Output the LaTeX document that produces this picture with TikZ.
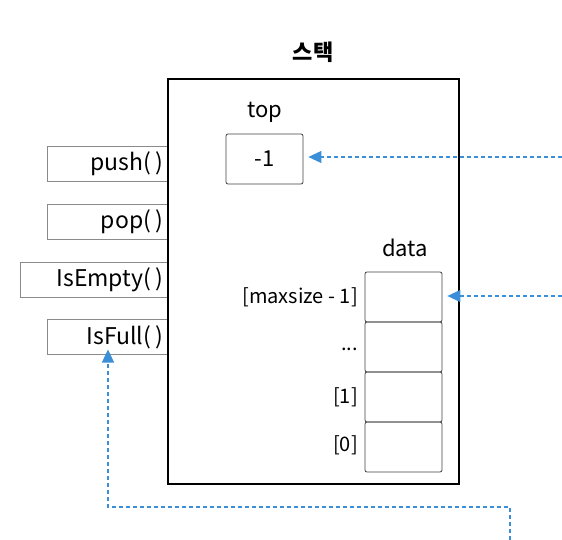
\documentclass[tikz,border=0pt]{standalone}
\usepackage{fontspec}
\setmainfont{Noto Sans CJK KR}
\usetikzlibrary{arrows.meta}
\definecolor{arrowblue}{HTML}{3A8FD8}
\definecolor{boxgray}{HTML}{8A8A8A}
\tikzset{
  method/.style={draw=boxgray, line width=0.8pt, minimum height=35pt, inner sep=0pt},
  mtext/.style={anchor=east, font=\fontsize{23}{26}\selectfont, inner sep=0pt},
  cell/.style={draw=black!75, line width=0.8pt, rounded corners=2pt, minimum width=77pt, minimum height=50pt, inner sep=0pt},
  lbl/.style={font=\fontsize{22}{26}\selectfont, inner sep=0pt},
  idx/.style={anchor=east, font=\fontsize{20}{24}\selectfont, inner sep=0pt},
  link/.style={draw=arrowblue, line width=1.1pt, dash pattern=on 4pt off 3pt, -{Triangle[length=13pt,width=12pt]}},
}
\begin{document}
\begin{tikzpicture}[x=1pt,y=-1pt]
\useasboundingbox (0,0) rectangle (562,540);
% method boxes
\node[method, minimum width=121pt] (push) at (107.5,163.5) {};
\node[method, minimum width=121pt] (pop) at (107.5,221.5) {};
\node[method, minimum width=148pt] (isempty) at (94,279.5) {};
\node[method, minimum width=121pt] (isfull) at (107.5,337) {};
\node[mtext] (pusht) at (163,163.5) {push(\,)};
\node[mtext] (popt) at (163,221.5) {pop(\,)};
\node[mtext] (isemptyt) at (163,279.5) {IsEmpty(\,)};
\node[mtext] (isfullt) at (163,337) {IsFull(\,)};
% main box
\node[draw=black, line width=2.8pt, minimum width=291pt, minimum height=405pt, inner sep=0pt] (stack) at (313.5,281.5) {};
\node[font=\fontsize{22}{26}\selectfont\bfseries] (title) at (313,52) {스택};
% top
\node[lbl] (toplbl) at (265,112) {top};
\node[cell, minimum height=50pt] (top) at (264.5,159) {\fontsize{22}{26}\selectfont -1};
% data
\node[lbl] (datalbl) at (405,248) {data};
\node[cell] (c3) at (403.5,297) {};
\node[cell] (c2) at (403.5,347) {};
\node[cell] (c1) at (403.5,397) {};
\node[cell] (c0) at (403.5,447) {};
\node[idx] (i3) at (358,297) {[maxsize - 1]};
\node[idx] (i2) at (358,349) {...};
\node[idx] (i1) at (358,397) {[1]};
\node[idx] (i0) at (358,445) {[0]};
% connectors
\coordinate (r1) at (562,157);
\coordinate (r2) at (562,296);
\coordinate (b1) at (510,540);
\draw[link] (r1) -- ([xshift=5pt]top.east |- r1);
\draw[link] (r2) -- ([xshift=5pt]c3.east |- r2);
\draw[link] (b1) -- (510,507) -- (108,507) -- ([yshift=5pt]108,354.5);
\end{tikzpicture}
\end{document}
